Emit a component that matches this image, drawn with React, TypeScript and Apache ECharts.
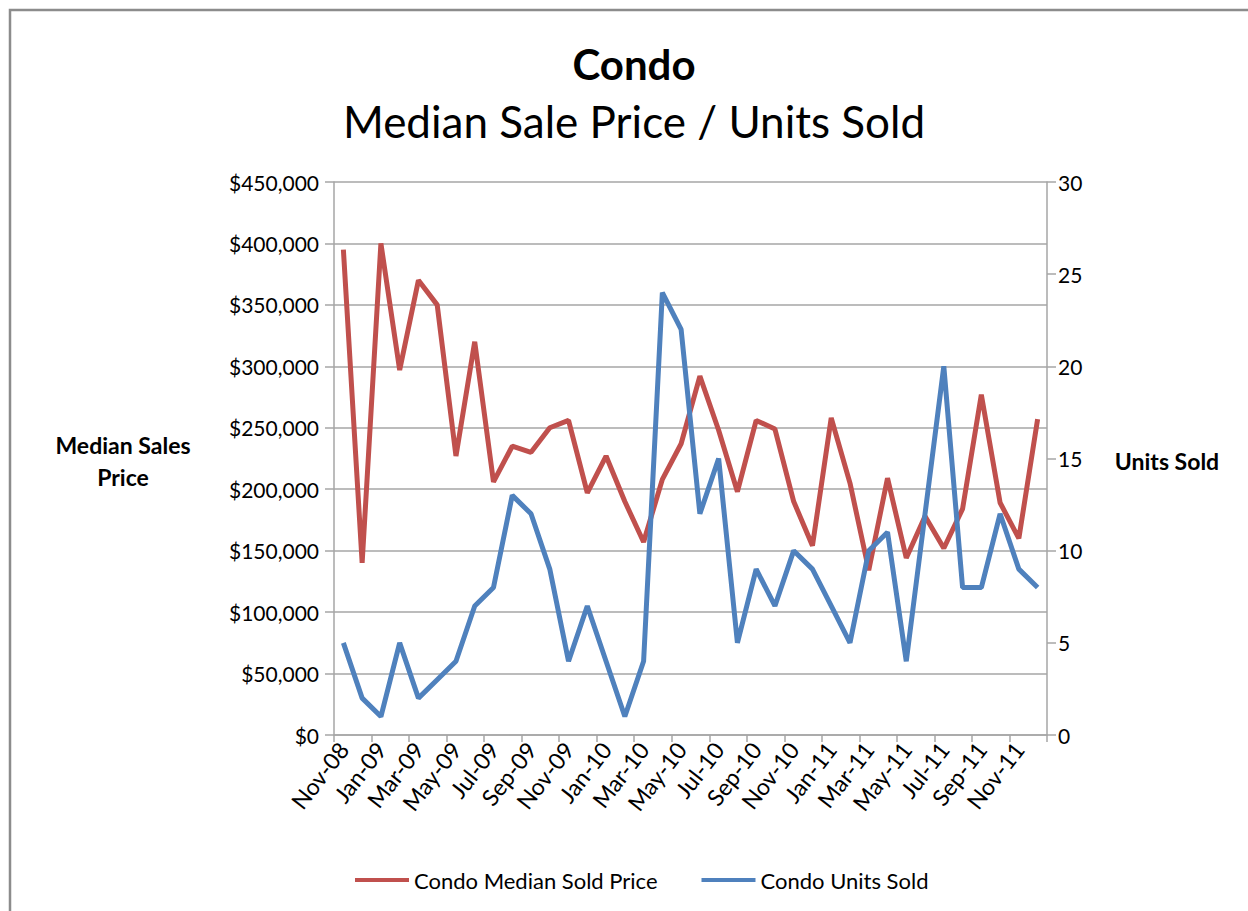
import React, { useEffect, useRef } from "react";
import * as echarts from "echarts";

const categories = [
  "Nov-08", "Dec-08",
  "Jan-09", "Feb-09", "Mar-09", "Apr-09", "May-09", "Jun-09", "Jul-09", "Aug-09", "Sep-09", "Oct-09", "Nov-09", "Dec-09",
  "Jan-10", "Feb-10", "Mar-10", "Apr-10", "May-10", "Jun-10", "Jul-10", "Aug-10", "Sep-10", "Oct-10", "Nov-10", "Dec-10",
  "Jan-11", "Feb-11", "Mar-11", "Apr-11", "May-11", "Jun-11", "Jul-11", "Aug-11", "Sep-11", "Oct-11", "Nov-11", "Dec-11",
];

const medianPrice = [
  395000, 140000,
  400000, 297000, 370000, 350000, 227000, 320000, 206000, 235000, 230000, 250000, 256000, 197000,
  227000, 190000, 157000, 208000, 237000, 292000, 248000, 198000, 256000, 249000, 190000, 154000,
  258000, 205000, 134000, 209000, 144000, 178000, 152000, 184000, 277000, 189000, 160000, 257000,
];

const unitsSold = [
  5, 2,
  1, 5, 2, 3, 4, 7, 8, 13, 12, 9, 4, 7,
  4, 1, 4, 24, 22, 12, 15, 5, 9, 7, 10, 9,
  7, 5, 10, 11, 4, 12, 20, 8, 8, 12, 9, 8,
];

const leftTicks = { min: 0, max: 450000, interval: 50000 };
const rightTicks = { min: 0, max: 30, interval: 5 };

const FONT = "Lato, 'Open Sans', sans-serif";
const RED = "#c0504d";
const BLUE = "#4f81bd";
const GRID = "#a6a6a6";

export default function App() {
  const ref = useRef<HTMLDivElement>(null);
  useEffect(() => {
    document.body.style.margin = "0";
    if (!ref.current) return;
    const chart = echarts.init(ref.current, undefined, { renderer: "svg" });
    chart.setOption({
      animation: false,
      backgroundColor: "#ffffff",
      textStyle: { fontFamily: FONT },
      grid: { left: 334, right: 201, top: 182, bottom: 176, containLabel: false },
      graphic: [
        {
          type: "rect",
          shape: { x: 10, y: 10, width: 1400, height: 1100 },
          style: { fill: "none", stroke: "#8c8c8c", lineWidth: 2.5 },
          silent: true,
        },
        {
          type: "text",
          x: 634, y: 64,
          style: { text: "Condo", fontSize: 42, fontWeight: "bold", fontFamily: FONT, fill: "#000", align: "center", verticalAlign: "middle" },
        },
        {
          type: "text",
          x: 634, y: 121,
          style: { text: "Median Sale Price / Units Sold", fontSize: 44, fontFamily: FONT, fill: "#000", align: "center", verticalAlign: "middle" },
        },
        {
          type: "text",
          x: 123, y: 461,
          style: { text: "Median Sales\nPrice", fontSize: 23, lineHeight: 32, fontWeight: "bold", fontFamily: FONT, fill: "#000", align: "center", verticalAlign: "middle" },
        },
        {
          type: "text",
          x: 1167, y: 461,
          style: { text: "Units Sold", fontSize: 23, fontWeight: "bold", fontFamily: FONT, fill: "#000", align: "center", verticalAlign: "middle" },
        },
      ],
      legend: {
        top: 864,
        left: 350,
        itemWidth: 54,
        itemHeight: 4,
        itemGap: 44,
        icon: "rect",
        textStyle: { fontSize: 22, fontFamily: FONT, color: "#000" },
        data: ["Condo Median Sold Price", "Condo Units Sold"],
      },
      xAxis: {
        type: "category",
        data: categories,
        boundaryGap: true,
        axisLine: { show: true, lineStyle: { color: GRID, width: 1.5 } },
        axisTick: { show: true, interval: 1, length: 7, lineStyle: { color: GRID, width: 1.5 } },
        axisLabel: { interval: 1, rotate: 52, fontSize: 23, color: "#000", fontFamily: FONT, margin: 10 },
        splitLine: { show: false },
      },
      yAxis: [
        {
          type: "value",
          position: "left",
          min: leftTicks.min, max: leftTicks.max, interval: leftTicks.interval,
          axisLine: { show: true, lineStyle: { color: GRID, width: 1.5 } },
          axisTick: { show: true, length: 9, lineStyle: { color: GRID, width: 1.5 } },
          axisLabel: {
            fontSize: 21, color: "#000", fontFamily: FONT, margin: 15,
            formatter: (v: number) => "$" + v.toLocaleString("en-US"),
          },
          splitLine: { show: true, lineStyle: { color: GRID, width: 1.5 } },
        },
        {
          type: "value",
          position: "right",
          min: rightTicks.min, max: rightTicks.max, interval: rightTicks.interval,
          axisLine: { show: true, lineStyle: { color: GRID, width: 1.5 } },
          axisTick: { show: true, length: 9, lineStyle: { color: GRID, width: 1.5 } },
          axisLabel: { fontSize: 21, color: "#000", fontFamily: FONT, margin: 11 },
          splitLine: { show: false },
        },
      ],
      series: [
        {
          name: "Condo Median Sold Price",
          type: "line",
          yAxisIndex: 0,
          data: medianPrice,
          showSymbol: false,
          symbol: "none",
          lineStyle: { color: RED, width: 5 },
          itemStyle: { color: RED },
        },
        {
          name: "Condo Units Sold",
          type: "line",
          yAxisIndex: 1,
          data: unitsSold,
          showSymbol: false,
          symbol: "none",
          lineStyle: { color: BLUE, width: 5 },
          itemStyle: { color: BLUE },
        },
      ],
    });
    return () => chart.dispose();
  }, []);
  return <div ref={ref} style={{ width: 1248, height: 911 }} />;
}
